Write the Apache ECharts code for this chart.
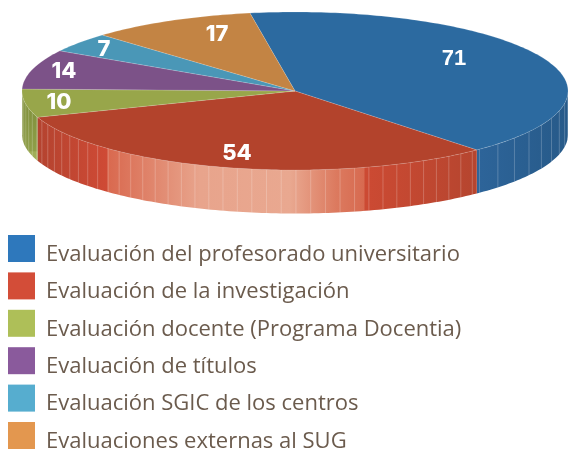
<!DOCTYPE html>
<html>
<head>
<meta charset="utf-8">
<title>Evaluaciones</title>
<script src="https://cdn.jsdelivr.net/npm/echarts@6/dist/echarts.min.js"></script>
<style>
html, body { margin: 0; padding: 0; background: #fff; overflow: hidden; }
#chart { width: 569px; height: 449px; }
</style>
</head>
<body>
<div id="chart"></div>
<script>
var categories = [
    'Evaluación del profesorado universitario',
    'Evaluación de la investigación',
    'Evaluación docente (Programa Docentia)',
    'Evaluación de títulos',
    'Evaluación SGIC de los centros',
    'Evaluaciones externas al SUG'
];
var values = [71, 54, 10, 14, 7, 17];

// colores
var legendColors = ['#2e78bc', '#d34d38', '#aebf58', '#8a5a9c', '#56adcf', '#e3974f'];
var topColors = ['#2c6aa0', '#b3432c', '#98a64a', '#7c5288', '#4a97b7', '#c38444'];

// geometria de la tarta
var cx = 295, cy = 91, rx = 273, ry = 79, depth = 43.5;
var startAngle = -9.5;
var labelPos = [[454, 59], [237, 153], [59, 102], [64, 71], [104, 49], [217, 34]];
var wallLineStep = [5.5, 3.1, 3.1];

function ellipse(deg, dy) {
    var r = deg * Math.PI / 180;
    return [cx + rx * Math.sin(r), cy - ry * Math.cos(r) + (dy || 0)];
}

function redWall() {
    var x0 = 38, x1 = 480;
    var stops = [
        [38, '#b4432f'], [107, '#cf4a35'], [108, '#d9694f'], [200, '#e8a48c'],
        [290, '#e9a890'], [336, '#dc7a5f'], [364, '#d76a50'], [365, '#cc4a33'], [480, '#b5452f']
    ].map(function (s) {
        return { offset: (s[0] - x0) / (x1 - x0), color: s[1] };
    });
    return new echarts.graphic.LinearGradient(x0, 0, x1, 0, stops, true);
}

var wallFills = [
    new echarts.graphic.LinearGradient(480, 0, 568, 0, [
        { offset: 0, color: '#2d6499' }, { offset: 1, color: '#275a89' }
    ], true),
    redWall(),
    new echarts.graphic.LinearGradient(0, 118, 0, 165, [
        { offset: 0, color: '#84943f' }, { offset: 0.7, color: '#8f9e48' }, { offset: 0.72, color: '#a0ae58' }, { offset: 1, color: '#a0ae58' }
    ], true)
];

function slicePoints(a, b) {
    var pts = [];
    var n = Math.max(2, Math.ceil(b - a));
    for (var i = 0; i <= n; i++) {
        pts.push(ellipse(a + (b - a) * i / n));
    }
    return pts;
}

function renderSlice(index) {
    return function (params, api) {
        var a = api.value(0), b = api.value(1);
        var children = [];

        // pared lateral, solo la mitad delantera
        var wa = Math.max(a, 90), wb = Math.min(b, 270);
        if (wa < wb) {
            var upper = slicePoints(wa, wb);
            var lower = upper.map(function (p) { return [p[0], p[1] + depth]; }).reverse();
            children.push({
                type: 'polygon',
                shape: { points: upper.concat(lower) },
                style: { fill: wallFills[index] || topColors[index] }
            });
            var step = wallLineStep[index];
            for (var d = Math.ceil(wa / step) * step; d < wb; d += step) {
                var p = ellipse(d);
                children.push({
                    type: 'line',
                    shape: { x1: p[0], y1: p[1], x2: p[0], y2: p[1] + depth },
                    style: { stroke: 'rgba(255,255,255,0.22)', lineWidth: 1 }
                });
            }
        }

        // cara superior
        children.push({
            type: 'polygon',
            shape: { points: [[cx, cy]].concat(slicePoints(a, b)) },
            style: { fill: topColors[index], stroke: 'rgba(255,255,255,0.25)', lineWidth: 0.6 }
        });
        children.push({
            type: 'text',
            style: {
                text: String(values[index]),
                x: labelPos[index][0],
                y: labelPos[index][1],
                fill: '#fff',
                align: 'center',
                verticalAlign: 'middle',
                font: index === 0 ? 'bold 22px "Liberation Sans"' : '800 22px Inter'
            }
        });
        return { type: 'group', children: children };
    };
}

var total = values.reduce(function (s, v) { return s + v; }, 0);
var angle = startAngle;
var series = values.map(function (v, i) {
    var from = angle;
    angle += v / total * 360;
    return {
        name: categories[i],
        type: 'custom',
        coordinateSystem: 'none',
        silent: true,
        animation: false,
        data: [[from, angle, v]],
        renderItem: renderSlice(i)
    };
});

var myChart = echarts.init(document.getElementById('chart'));
myChart.setOption({
    animation: false,
    backgroundColor: '#fff',
    legend: {
        orient: 'vertical',
        left: 8,
        top: 235,
        height: 300,
        padding: 0,
        itemWidth: 27,
        itemHeight: 27,
        itemGap: 6.9,
        icon: 'rect',
        selectedMode: false,
        data: categories.map(function (c, i) {
            return { name: c, itemStyle: { color: legendColors[i] } };
        }),
        // el texto va mas bajo que el cuadrado, como en el original
        formatter: function (name) {
            return '{s| }{a|' + name + '}';
        },
        textStyle: {
            rich: {
                s: { width: 6, lineHeight: 34, fontSize: 1 },
                a: {
                    fontFamily: 'Open Sans',
                    fontSize: 22,
                    color: '#6b5b4d',
                    lineHeight: 22,
                    verticalAlign: 'bottom'
                }
            }
        }
    },
    series: series
});
</script>
</body>
</html>
